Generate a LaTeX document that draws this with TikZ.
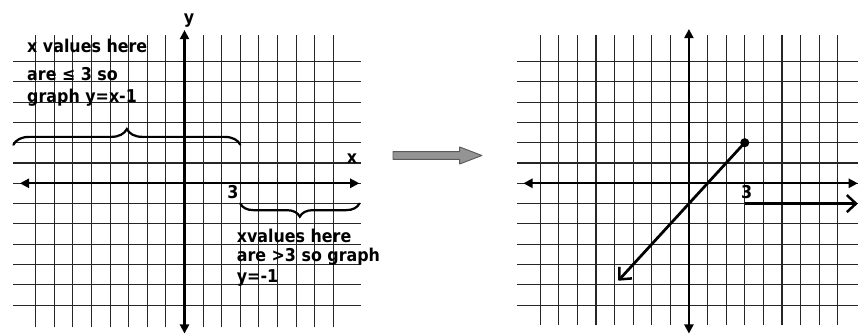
\documentclass[tikz,border=0pt]{standalone}
\usepackage{fontspec}
\setmainfont{DejaVu Sans Condensed}
\usetikzlibrary{
	positioning,
	arrows.meta,
	decorations.pathreplacing
}

\begin{document}
\begin{tikzpicture}[
				x=0.5cm, y=0.5457cm,
				every node/.style={
					font=\fontsize{13.5}{16}\selectfont\bfseries,
					inner sep=0pt
				},
				gridline/.style={
					black!85,
					line width=0.9pt
				},
				axisline/.style={
					black,
					line width=1.6pt,
					{Triangle[length=7pt,width=7pt]}-{Triangle[length=7pt,width=7pt]}
				},
				curly/.style={
					black,
					line width=1.7pt,
					line cap=round,
					decorate,
					decoration={brace, amplitude=#1}
				},
				graphline/.style={
					black,
					line width=2.1pt,
					-{Straight Barb[length=7pt,width=13pt,line width=1.9pt]}
				},
				blockarrow/.style={
					draw=black!65,
					fill=black!42,
					line width=0.7pt,
					line join=round
				},
				note/.style={
					anchor=base west
				}
				]
				
				\useasboundingbox[fill=white] (-9.92,-7.47) rectangle (36.21,9.03);
				
				% left graph: the two pieces marked out
				\foreach \i in {-8,...,8}
					\draw[gridline] (\i,-7.1) -- (\i,7.3);
				\foreach \j in {-6,...,6}
					\draw[gridline] (-9.2,\j) -- (9.5,\j);
				
				\draw[axisline] (0,-7.4) -- (0,7.55);
				\draw[axisline] (-8.85,0) -- (9.4,0);
				
				\node (ylabL) at (0.25,8.0) {y};
				\node (xlabL) at (9.0,1.2) {x};
				\node (threeL) at (2.6,-0.45) {3};
				
				\draw[curly=12pt] (-9.2,1.9) -- (3,1.9);
				\draw[curly=10pt] (9.4,-1) -- (3,-1);
				
				\node[note] (leftA) at (-8.47,6.45) {x values here};
				\node[note] (leftB) at (-8.47,5.05) {are ≤ 3 so};
				\node[note] (leftC) at (-8.47,4.0) {graph y=x-1};
				
				\node[note] (rightA) at (2.8,-2.94) {xvalues here};
				\node[note] (rightB) at (2.8,-3.86) {are >3 so graph};
				\node[note] (rightC) at (2.8,-4.91) {y=-1};
				
				% the arrow between
				\coordinate (goTail) at (11.21,1.37);
				\draw[blockarrow] ([yshift=3pt]goTail) -- ++(51pt,0) -- ++(0,3.5pt)
					-- ++(17pt,-6.5pt) -- ++(-17pt,-6.5pt) -- ++(0,3.5pt) -- ++(-51pt,0) -- cycle;
				
				% right graph: the result
				\begin{scope}[shift={(27.12,0)}]
					\foreach \i in {-8,...,8}
						\draw[gridline] (\i,-7.0) -- (\i,7.3);
					\foreach \j in {-6,...,6}
						\draw[gridline] (-9.25,\j) -- (9.1,\j);
					
					\draw[axisline] (0,-7.4) -- (0,7.6);
					\draw[axisline] (-8.9,0) -- (9.08,0);
					
					\node (threeR) at (3.1,-0.45) {3};
					
					\coordinate (top) at (3,2);
					\coordinate (low) at (-3.8,-4.8);
					\coordinate (rayStart) at (3,-1);
					\coordinate (rayEnd) at (9.08,-1);
					
					\draw[graphline] (top) -- (low);
					\fill (top) circle (3.5pt);
					\draw[graphline] (rayStart) -- (rayEnd);
				\end{scope}
				
			\end{tikzpicture}
\end{document}
